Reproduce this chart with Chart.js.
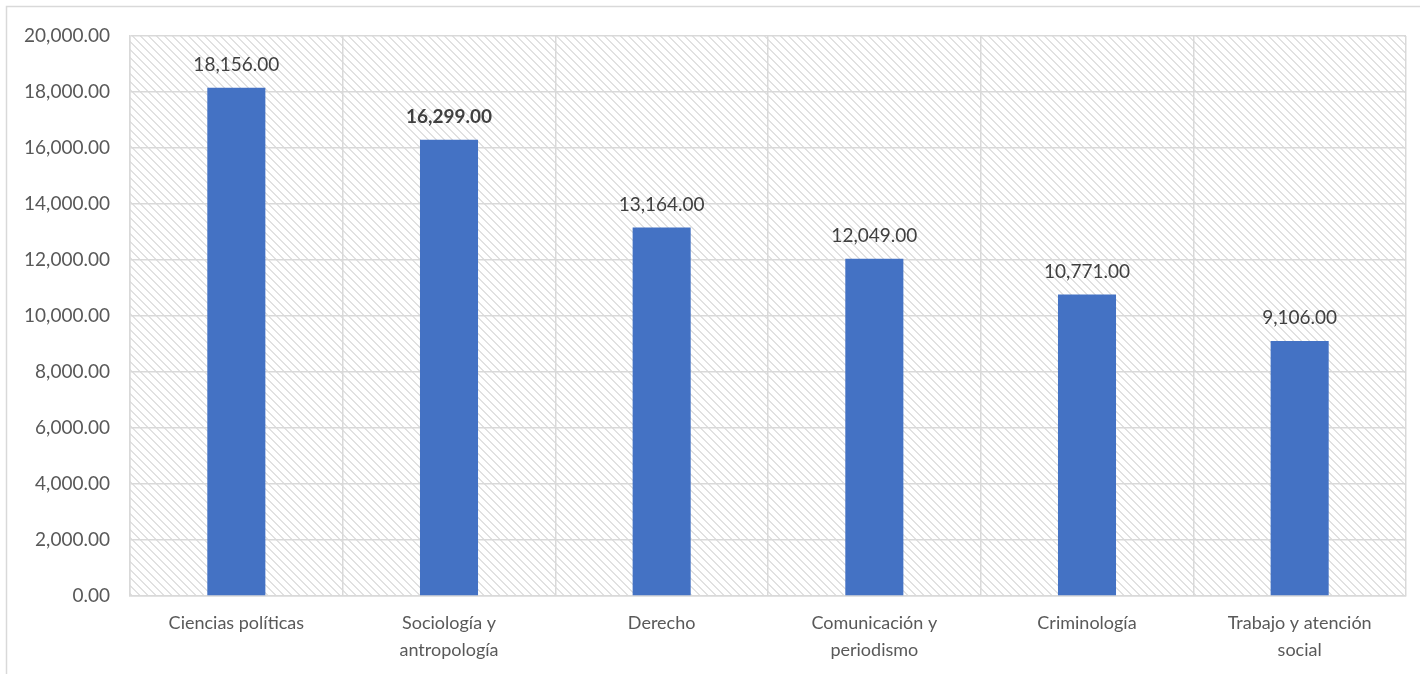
<!DOCTYPE html>
<html>
<head>
<meta charset="utf-8">
<script src="https://cdn.jsdelivr.net/npm/chart.js@4/dist/chart.umd.min.js"></script>
<style>
  html, body { margin: 0; padding: 0; background: #ffffff; }
  #wrap { width: 1420px; height: 674px; position: relative; }
</style>
</head>
<body>
<div id="wrap"><canvas id="chart"></canvas></div>
<script>
// categorías y valores
const categories = [
    ['Ciencias políticas'],
    ['Sociología y', 'antropología'],
    ['Derecho'],
    ['Comunicación y', 'periodismo'],
    ['Criminología'],
    ['Trabajo y atención', 'social']
];
const values = [18156, 16299, 13164, 12049, 10771, 9106];
const boldLabel = [false, true, false, false, false, false];
const yTicks = [0, 2000, 4000, 6000, 8000, 10000, 12000, 14000, 16000, 18000, 20000];

const FONT = 'Lato, "Open Sans", sans-serif';

function fmt(v) {
    return v.toLocaleString('en-US', { minimumFractionDigits: 2, maximumFractionDigits: 2 });
}

// fondo rayado (patrón diagonal)
function makeHatch() {
    const c = document.createElement('canvas');
    c.width = 8; c.height = 8;
    const g = c.getContext('2d');
    g.fillStyle = '#ffffff';
    g.fillRect(0, 0, 8, 8);
    g.fillStyle = '#e1e1e1';
    for (let i = 0; i < 8; i++) {
        g.fillRect(i, i, 1, 1);
        g.fillRect((i + 1) % 8, i, 1, 1);
    }
    return g.createPattern(c, 'repeat');
}

const backgroundPlugin = {
    id: 'bgHatch',
    beforeDraw(chart) {
        const ctx = chart.ctx;
        const a = chart.chartArea;
        ctx.save();
        // marco exterior
        ctx.strokeStyle = '#d9d9d9';
        ctx.lineWidth = 1.5;
        ctx.strokeRect(6.5, 6.5, chart.width + 20, chart.height + 20);
        ctx.fillStyle = makeHatch();
        ctx.fillRect(a.left, a.top, a.right - a.left, a.bottom - a.top);
        ctx.restore();
    }
};

// etiquetas de datos encima de las barras
const labelPlugin = {
    id: 'barLabels',
    afterDatasetsDraw(chart) {
        const ctx = chart.ctx;
        const meta = chart.getDatasetMeta(0);
        ctx.save();
        ctx.fillStyle = '#404040';
        ctx.textAlign = 'center';
        ctx.textBaseline = 'middle';
        meta.data.forEach((bar, i) => {
            ctx.font = (boldLabel[i] ? 'bold ' : '') + '19px ' + FONT;
            ctx.fillText(fmt(values[i]), bar.x, bar.y - 23);
        });
        ctx.restore();
    }
};

new Chart(document.getElementById('chart'), {
    type: 'bar',
    data: {
        labels: categories,
        datasets: [{
            data: values,
            backgroundColor: '#4472c4',
            borderWidth: 0,
            categoryPercentage: 1,
            barPercentage: 0.273
        }]
    },
    options: {
        responsive: true,
        maintainAspectRatio: false,
        animation: false,
        layout: { padding: { left: 10, top: 36, right: 14, bottom: 0 } },
        plugins: {
            legend: { display: false },
            tooltip: { enabled: false }
        },
        scales: {
            x: {
                grid: { color: '#d9d9d9', lineWidth: 1.5, drawTicks: false, offset: true },
                border: { color: '#d9d9d9', width: 1.5 },
                ticks: {
                    color: '#595959',
                    font: { family: FONT, size: 18, lineHeight: 1.5 },
                    padding: 14,
                    maxRotation: 0
                },
                afterFit(scale) { scale.height = 78; }
            },
            y: {
                min: 0,
                max: 20000,
                afterBuildTicks(scale) { scale.ticks = yTicks.map(v => ({ value: v })); },
                grid: { color: '#d9d9d9', lineWidth: 1.5, drawTicks: false },
                border: { color: '#d9d9d9', width: 1.5 },
                ticks: {
                    color: '#595959',
                    font: { family: FONT, size: 19 },
                    padding: 20,
                    callback: v => fmt(v)
                },
                afterFit(scale) { scale.width = 120; }
            }
        }
    },
    plugins: [backgroundPlugin, labelPlugin]
});
</script>
</body>
</html>
